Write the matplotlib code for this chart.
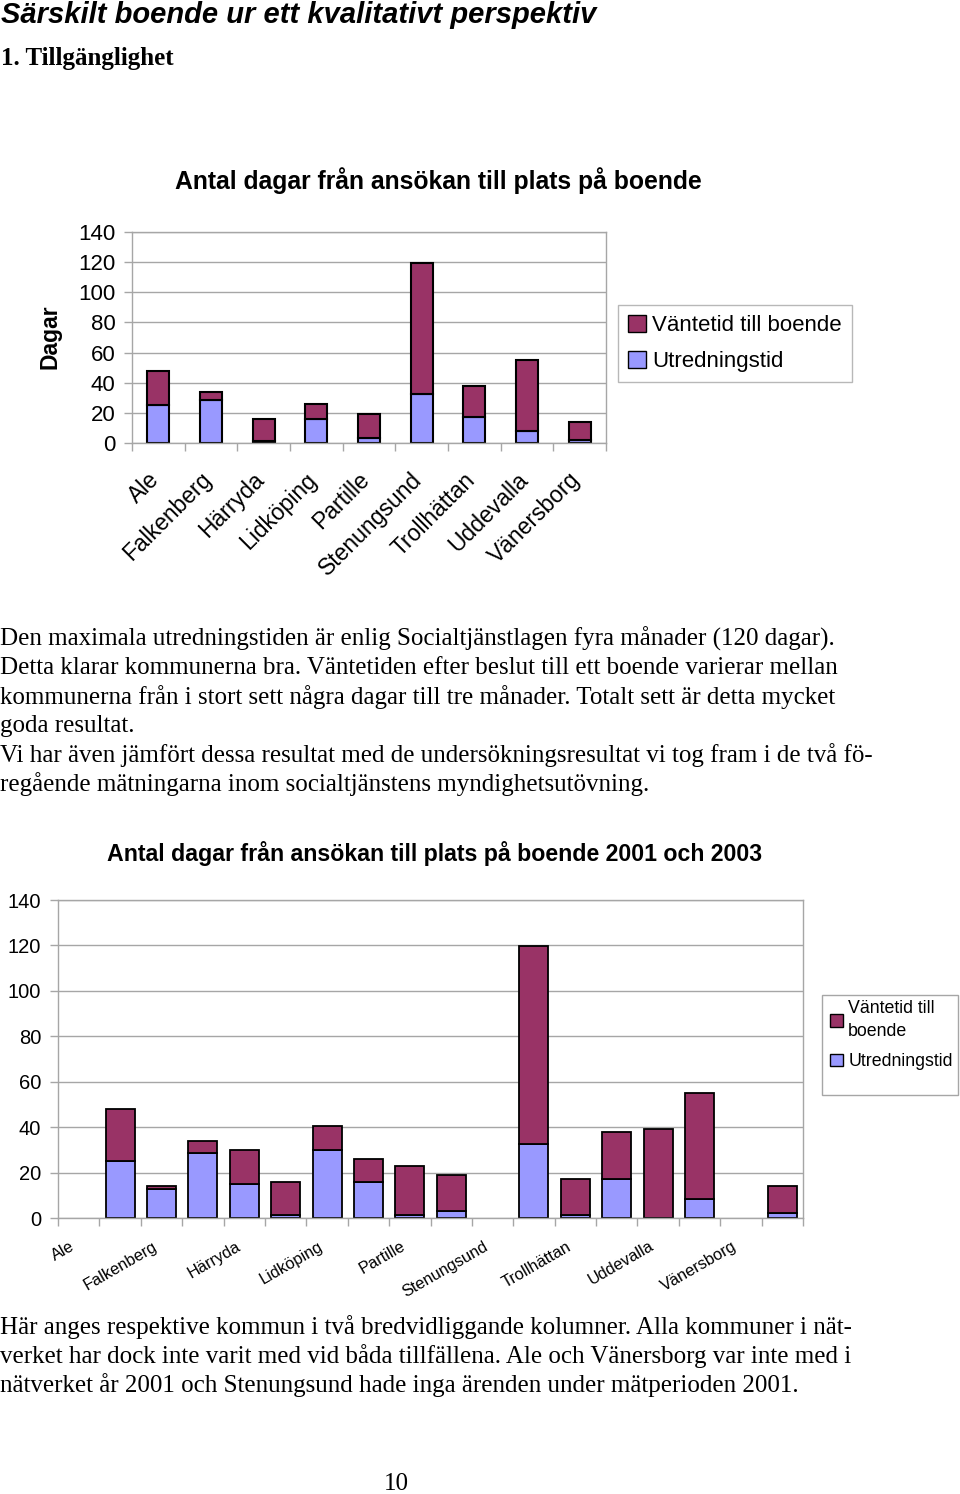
import matplotlib
matplotlib.use('Agg')
import matplotlib.pyplot as plt
import matplotlib.transforms as mtransforms
import numpy as np
from matplotlib.patches import Patch, Rectangle

kommuner = ['Ale', 'Falkenberg', 'Härryda', 'Lidköping', 'Partille',
            'Stenungsund', 'Trollhättan', 'Uddevalla', 'Vänersborg']

# 2003 (chart 1 and second bar of each pair in chart 2)
utredning_2003 = [25.0, 28.8, 1.2, 15.9, 3.0, 32.6, 17.0, 8.2, 2.0]
vantetid_2003 = [22.9, 5.2, 14.8, 10.1, 16.0, 87.0, 21.0, 46.8, 12.0]

# 2001 (nan = not in the network / no cases)
utredning_2001 = [np.nan, 12.7, 14.8, 30.0, 1.2, np.nan, 1.2, 0.0, np.nan]
vantetid_2001 = [np.nan, 1.5, 15.3, 10.3, 21.9, np.nan, 16.0, 39.0, np.nan]

y_ticks = [0, 20, 40, 60, 80, 100, 120, 140]

maroon = '#993366'
blue = '#9999ff'
grid_c = '#a6a6a6'

W, H = 960, 1494
fig = plt.figure(figsize=(W / 100, H / 100), dpi=100)
fig.patch.set_facecolor('white')

def px(x, y):
    return x / W, 1 - y / H

sans = 'Liberation Sans'
serif = 'Liberation Serif'

def style_axes(ax, n, fs):
    ax.set_xlim(-0.5, n - 0.5)
    ax.set_ylim(0, 140)
    ax.set_yticks(y_ticks)
    ax.set_yticklabels([str(t) for t in y_ticks], fontsize=fs, family=sans)
    ax.yaxis.grid(True, color=grid_c, lw=1)
    ax.set_axisbelow(True)
    for s in ax.spines.values():
        s.set_color(grid_c)
        s.set_linewidth(1)
    ax.tick_params(axis='y', color=grid_c, length=6, width=1)
    ax.set_xticks(np.arange(-0.5, n, 1.0), minor=True)
    ax.tick_params(axis='x', which='minor', color=grid_c, length=6, width=1)
    ax.tick_params(axis='x', which='major', length=0)

def shift_labels(ax, dx, dy):
    off = mtransforms.ScaledTranslation(dx / 100, dy / 100, fig.dpi_scale_trans)
    for lab in ax.get_xticklabels():
        lab.set_transform(lab.get_transform() + off)

# ---- header
fig.text(*px(1, 15), 'Särskilt boende ur ett kvalitativt perspektiv', fontsize=21,
         family=sans, weight='bold', style='italic', va='center', ha='left')
fig.text(*px(1, 59), '1. Tillgänglighet', fontsize=18, family=serif,
         weight='bold', va='center', ha='left')

# ---- chart 1
l, b = px(132, 443)
ax1 = fig.add_axes([l, b, 474 / W, 211 / H])
x1 = np.arange(len(kommuner))
ax1.bar(x1, utredning_2003, width=0.42, color=blue, edgecolor='black', lw=1.5)
ax1.bar(x1, vantetid_2003, width=0.42, bottom=utredning_2003, color=maroon,
        edgecolor='black', lw=1.5)
style_axes(ax1, len(kommuner), 16)
ax1.tick_params(axis='y', pad=6)
ax1.set_xticks(x1)
ax1.set_xticklabels(kommuner, rotation=45, ha='right', rotation_mode='anchor',
                    fontsize=16.5, family=sans)
ax1.tick_params(axis='x', which='major', pad=16)
shift_labels(ax1, -11, -3)

fig.text(*px(438, 181), 'Antal dagar från ansökan till plats på boende',
         fontsize=17.8, family=sans, weight='bold', ha='center', va='center')
fig.text(*px(50, 337), 'Dagar', fontsize=16.5, family=sans, weight='bold',
         rotation=90, ha='center', va='center')

handles = [Patch(facecolor=maroon, edgecolor='black'),
           Patch(facecolor=blue, edgecolor='black')]
leg1 = fig.legend(handles, ['Väntetid till boende', 'Utredningstid'],
                  loc='upper left', bbox_to_anchor=px(618, 305),
                  borderaxespad=0, fancybox=False, edgecolor=grid_c,
                  prop={'family': sans, 'size': 16}, handlelength=0.8,
                  handleheight=0.8, handletextpad=0.3, labelspacing=0.65,
                  borderpad=0.45)
leg1.get_frame().set_linewidth(1)

# ---- paragraph 1
para1 = [
    'Den maximala utredningstiden är enlig Socialtjänstlagen fyra månader (120 dagar).',
    'Detta klarar kommunerna bra. Väntetiden efter beslut till ett boende varierar mellan',
    'kommunerna från i stort sett några dagar till tre månader. Totalt sett är detta mycket',
    'goda resultat.',
    'Vi har även jämfört dessa resultat med de undersökningsresultat vi tog fram i de två fö-',
    'regående mätningarna inom socialtjänstens myndighetsutövning.',
]
for i, line in enumerate(para1):
    fig.text(*px(0, 639 + 29 * i), line, fontsize=18, family=serif,
             ha='left', va='center')

# ---- chart 2
l, b = px(58, 1218)
ax2 = fig.add_axes([l, b, 745 / W, 318 / H])
n2 = 2 * len(kommuner)
x01 = np.arange(0, n2, 2)
x03 = np.arange(1, n2, 2)
u01 = np.nan_to_num(utredning_2001)
v01 = np.nan_to_num(vantetid_2001)
ok = ~np.isnan(np.array(vantetid_2001))
ax2.bar(x01[ok], u01[ok], width=0.7, color=blue, edgecolor='black', lw=1.3)
ax2.bar(x01[ok], v01[ok], width=0.7, bottom=u01[ok], color=maroon,
        edgecolor='black', lw=1.3)
ax2.bar(x03, utredning_2003, width=0.7, color=blue, edgecolor='black', lw=1.3)
ax2.bar(x03, vantetid_2003, width=0.7, bottom=utredning_2003, color=maroon,
        edgecolor='black', lw=1.3)
style_axes(ax2, n2, 14.5)
ax2.tick_params(axis='y', pad=6)
ax2.set_xticks(x01)
ax2.set_xticklabels(kommuner, rotation=30, ha='right', rotation_mode='anchor',
                    fontsize=11.8, family=sans)
ax2.tick_params(axis='x', which='major', pad=17)
shift_labels(ax2, -9, 3)

fig.text(*px(435, 853), 'Antal dagar från ansökan till plats på boende 2001 och 2003',
         fontsize=16.7, family=sans, weight='bold', ha='center', va='center')

x0, y0 = px(822, 1095)
fig.patches.append(Rectangle((x0, y0), 136 / W, 100 / H, transform=fig.transFigure,
                             facecolor='white', edgecolor=grid_c, lw=1))
leg2 = fig.legend(handles, ['Väntetid till\nboende', 'Utredningstid'],
                  loc='upper left', bbox_to_anchor=px(826, 996),
                  borderaxespad=0, frameon=False,
                  prop={'family': sans, 'size': 12.8}, handlelength=0.7,
                  handleheight=0.7, handletextpad=0.3, labelspacing=0.75,
                  borderpad=0.25)
for t in leg2.get_texts():
    t.set_linespacing(1.4)

# ---- paragraph 2
para2 = [
    'Här anges respektive kommun i två bredvidliggande kolumner. Alla kommuner i nät-',
    'verket har dock inte varit med vid båda tillfällena. Ale och Vänersborg var inte med i',
    'nätverket år 2001 och Stenungsund hade inga ärenden under mätperioden 2001.',
]
for i, line in enumerate(para2):
    fig.text(*px(0, 1327 + 29 * i), line, fontsize=18, family=serif,
             ha='left', va='center')

fig.text(*px(396, 1484), '10', fontsize=18, family=serif, ha='center', va='center')

fig.savefig('out.png', dpi=100, facecolor='white')
